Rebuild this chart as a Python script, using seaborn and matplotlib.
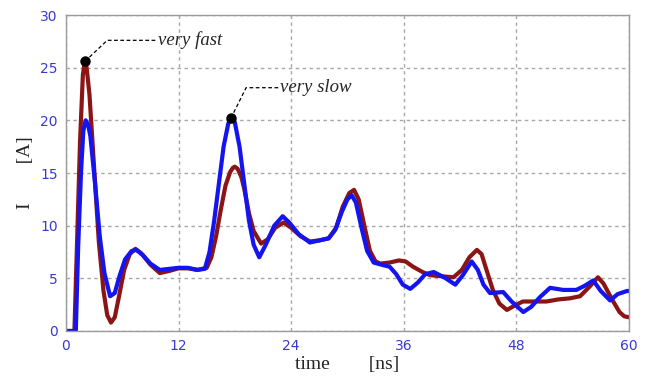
"""
plot.py

Current waveform I(t) for the "very fast" and "very slow" cases,
drawn in the old MATLAB-figure look (blue tick labels, dashed grid).
"""

import matplotlib
matplotlib.use("Agg")

import matplotlib.pyplot as plt
import seaborn as sns
import pandas as pd

# --- data ------------------------------------------------------------------
fast_t = [0, 0.9, 1.1, 1.5, 1.8, 2.0, 2.2, 2.5, 3.0, 3.5, 4.0, 4.4, 4.8, 5.2,
          5.7, 6.2, 6.8, 7.4, 8.0, 9.0, 10.0, 11.0, 12.0, 13.0, 14.0, 15.0,
          15.5, 16.0, 16.5, 17.0, 17.5, 17.8, 18.0, 18.3, 18.7, 19.0, 19.5,
          20.0, 20.8, 21.5, 22.3, 23.2, 24.0, 25.0, 26.0, 27.0, 28.0, 28.8,
          29.5, 30.2, 30.7, 31.2, 31.8, 32.4, 33.0, 33.5, 34.5, 35.5, 36.2,
          37.0, 38.0, 38.8, 40.0, 41.3, 42.2, 43.0, 43.8, 44.3, 45.0, 45.5,
          46.2, 47.0, 47.8, 48.7, 50.0, 51.2, 52.5, 53.7, 54.8, 55.8, 56.7,
          57.3, 57.9, 58.4, 59.0, 59.5, 60.0]
fast_i = [0, 0, 6.0, 18.0, 24.3, 25.6, 25.0, 22.5, 15.5, 8.5, 3.8, 1.5, 0.8,
          1.3, 3.5, 5.8, 7.3, 7.8, 7.4, 6.3, 5.5, 5.7, 5.95, 5.95, 5.8, 6.0,
          7.0, 9.0, 11.5, 13.8, 15.1, 15.5, 15.6, 15.4, 14.6, 13.5, 11.2, 9.5,
          8.3, 8.7, 9.8, 10.3, 9.8, 9.0, 8.5, 8.6, 8.8, 9.8, 11.8, 13.1, 13.4,
          12.5, 10.0, 7.6, 6.6, 6.4, 6.5, 6.7, 6.6, 6.1, 5.6, 5.3, 5.2, 5.1,
          5.8, 7.0, 7.7, 7.3, 5.3, 3.9, 2.6, 2.0, 2.4, 2.8, 2.8, 2.8, 3.0, 3.1,
          3.3, 4.2, 5.1, 4.5, 3.5, 2.7, 1.8, 1.4, 1.3]

slow_t = [0, 1.05, 1.3, 1.6, 1.85, 2.1, 2.35, 2.6, 3.1, 3.6, 4.1, 4.7, 5.2,
          5.7, 6.3, 7.0, 7.5, 8.2, 9.0, 10.0, 11.0, 12.0, 13.0, 14.0, 14.8,
          15.3, 15.8, 16.3, 16.8, 17.3, 17.6, 18.0, 18.5, 19.0, 19.5, 20.0,
          20.6, 21.3, 22.2, 23.1, 23.8, 24.8, 26.0, 27.0, 28.0, 28.7, 29.4,
          30.0, 30.45, 30.9, 31.5, 32.1, 32.8, 33.6, 34.5, 35.2, 35.9, 36.7,
          37.5, 38.3, 39.2, 40.3, 41.5, 42.3, 43.25, 43.9, 44.5, 45.2, 46.6,
          47.5, 48.75, 49.6, 50.5, 51.6, 53.0, 54.4, 55.3, 56.2, 57.0, 58.0,
          58.8, 59.8, 60.0]
slow_i = [0, 0, 8.0, 15.0, 19.0, 20.0, 19.6, 18.5, 14.0, 9.0, 5.5, 3.3, 3.6,
          5.2, 6.8, 7.6, 7.7, 7.2, 6.4, 5.8, 5.9, 6.0, 6.0, 5.8, 5.9, 7.5,
          10.5, 14.0, 17.5, 19.7, 20.2, 19.8, 17.5, 14.0, 10.5, 8.2, 7.0, 8.2,
          10.0, 10.9, 10.3, 9.2, 8.4, 8.6, 8.8, 9.6, 11.3, 12.5, 12.9, 12.2,
          9.8, 7.6, 6.5, 6.3, 6.1, 5.4, 4.4, 4.0, 4.6, 5.4, 5.6, 5.1, 4.4, 5.3,
          6.6, 5.8, 4.4, 3.6, 3.7, 2.8, 1.8, 2.3, 3.2, 4.1, 3.9, 3.9, 4.3, 4.8,
          3.8, 2.9, 3.5, 3.8, 3.8]

x_ticks = [0, 12, 24, 36, 48, 60]
y_ticks = [0, 5, 10, 15, 20, 25, 30]

# annotated peaks: (label, peak t, peak I, kink t, kink I, text t)
notes = [
    ("very fast", 2.02, 25.6, 4.4, 27.6, 9.8),
    ("very slow", 17.58, 20.2, 19.2, 23.1, 22.8),
]

RED = "#8b1414"
BLUE = "#1414f0"
TICK_BLUE = "#3a3ad0"
GRID = "#a8a8a8"
SERIF = "Liberation Serif"


def build_frame() -> pd.DataFrame:
    fast = pd.DataFrame({"t": fast_t, "I": fast_i, "case": "very fast"})
    slow = pd.DataFrame({"t": slow_t, "I": slow_i, "case": "very slow"})
    return pd.concat([fast, slow], ignore_index=True)


def main():
    sns.set_style("white")
    df = build_frame()

    fig = plt.figure(figsize=(6.5, 3.76), dpi=100)
    ax = fig.add_axes([0.1015, 0.1197, 0.866, 0.8403])

    sns.lineplot(data=df, x="t", y="I", hue="case", estimator=None,
                 sort=False, palette={"very fast": RED, "very slow": BLUE},
                 linewidth=3.0, legend=False, ax=ax)

    ax.set_xlim(0, 60)
    ax.set_ylim(0, 30)
    ax.set_xticks(x_ticks)
    ax.set_yticks(y_ticks)
    ax.tick_params(length=0, labelsize=10, labelcolor=TICK_BLUE, pad=6)
    ax.grid(True, color=GRID, linestyle=(0, (2.5, 2.5)), linewidth=1.0)
    for sp in ax.spines.values():
        sp.set_color("#9a9a9a")
        sp.set_linewidth(1.0)

    ax.set_xlabel("time        [ns]", fontsize=14, family=SERIF, labelpad=2)
    ax.set_ylabel("I        [A]", fontsize=14, family=SERIF, labelpad=4)

    for label, pt, pi, kt, ki, tt in notes:
        ax.plot([pt, kt, tt - 0.1], [pi, ki, ki], color="black",
                linestyle=(0, (3, 2)), linewidth=0.9)
        ax.plot(pt, pi, "o", color="black", markersize=6.5)
        ax.text(tt, ki, label, fontsize=13.5, family=SERIF, style="italic",
                va="center", ha="left")

    fig.savefig("out.png", dpi=100)
    plt.close(fig)


if __name__ == "__main__":
    main()
